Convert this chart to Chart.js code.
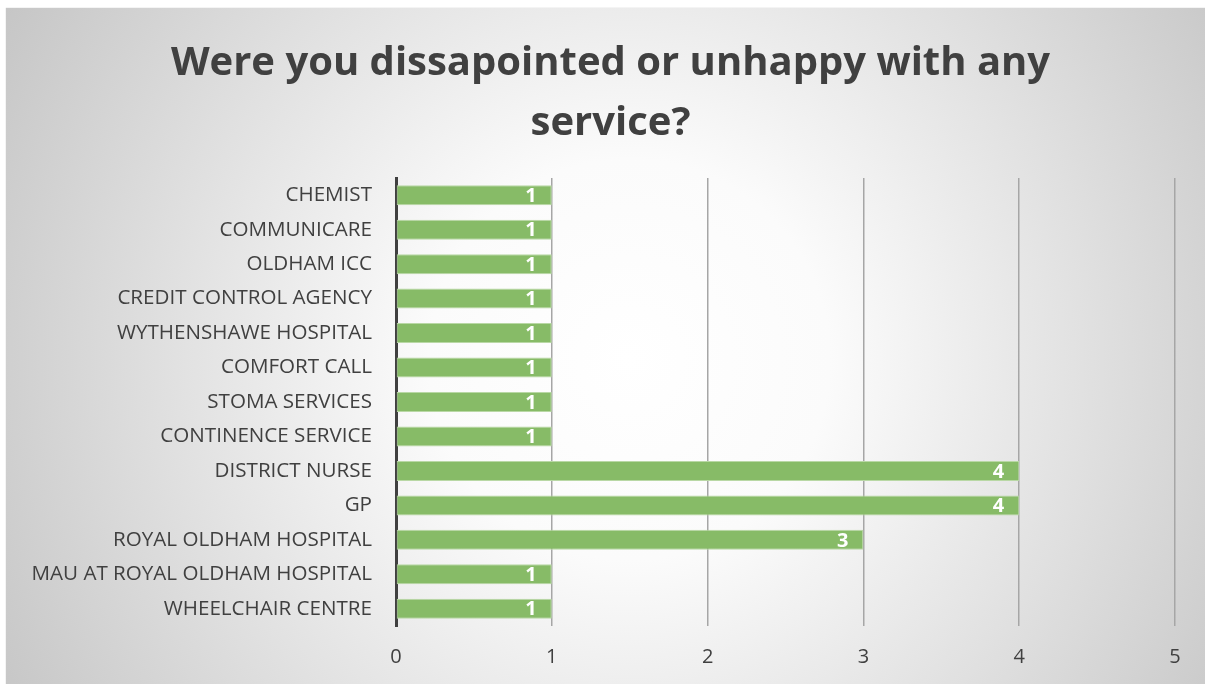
<!DOCTYPE html>
<html>
<head>
<meta charset="utf-8">
<script src="https://cdn.jsdelivr.net/npm/chart.js@4.4.1/dist/chart.umd.min.js"></script>
<style>
  body { margin: 0; background: #ffffff; }
  #wrap {
    position: absolute; left: 6px; top: 8px; width: 1199px; height: 676px;
    background: radial-gradient(circle farthest-corner at 52% 52%, #ffffff 0%, #fbfbfb 28%, #c6c6c6 100%);
    box-shadow: 0 0 1px #bbbbbb;
  }
</style>
</head>
<body>
<div id="wrap"><canvas id="chart" width="1199" height="676"></canvas></div>
<script>
// categories, top to bottom
var services = [
  "CHEMIST",
  "COMMUNICARE",
  "OLDHAM ICC",
  "CREDIT CONTROL AGENCY",
  "WYTHENSHAWE HOSPITAL",
  "COMFORT CALL",
  "STOMA SERVICES",
  "CONTINENCE SERVICE",
  "DISTRICT NURSE",
  "GP",
  "ROYAL OLDHAM HOSPITAL",
  "MAU AT ROYAL OLDHAM HOSPITAL",
  "WHEELCHAIR CENTRE",
];
var counts = [1, 1, 1, 1, 1, 1, 1, 1, 4, 4, 3, 1, 1];
var xTicks = [0, 1, 2, 3, 4, 5];

var fontName = "'Open Sans', sans-serif";

// white value at the end of each bar
var barLabels = {
  id: "barLabels",
  afterDatasetsDraw: function (chart) {
    var ctx = chart.ctx;
    var meta = chart.getDatasetMeta(0);
    ctx.save();
    ctx.fillStyle = "#ffffff";
    ctx.font = "bold 20px " + fontName;
    ctx.textAlign = "right";
    ctx.textBaseline = "middle";
    meta.data.forEach(function (bar, i) {
      ctx.fillText(counts[i], bar.x - 15, bar.y + 1);
    });
    ctx.restore();
  },
};

// the title is centred on the whole box, not just left of the right padding
var titleShift = {
  id: "titleShift",
  afterLayout: function (chart) {
    if (chart.titleBlock) {
      chart.titleBlock.right += 40;
    }
  },
};

var ctx = document.getElementById("chart").getContext("2d");
var myChart = new Chart(ctx, {
  type: "bar",
  data: {
    labels: services,
    datasets: [
      {
        data: counts,
        backgroundColor: "#87bb67",
        borderColor: "#b9d8a5",
        borderWidth: 1,
        borderSkipped: false,
        barPercentage: 0.58,
        categoryPercentage: 1,
      },
    ],
  },
  options: {
    indexAxis: "y",
    responsive: false,
    animation: false,
    layout: { padding: { left: 0, right: 30, top: 0, bottom: 0 } },
    plugins: {
      legend: { display: false },
      tooltip: { enabled: false },
      title: {
        display: true,
        text: ["Were you dissapointed or unhappy with any", "service?"],
        color: "#404040",
        font: { family: fontName, size: 40, weight: "bold", lineHeight: 1.5 },
        padding: { top: 26, bottom: 24 },
      },
    },
    scales: {
      x: {
        min: 0,
        max: 5,
        afterBuildTicks: function (scale) {
          scale.ticks = xTicks.map(function (v) { return { value: v }; });
        },
        afterFit: function (scale) { scale.height = 58; },
        grid: {
          color: function (c) { return c.tick && c.tick.value === 0 ? "rgba(0,0,0,0)" : "#a6a6a6"; },
          lineWidth: 1.5,
          drawTicks: false,
        },
        border: { display: false },
        ticks: { color: "#404040", font: { family: fontName, size: 20 }, padding: 19 },
      },
      y: {
        afterFit: function (scale) { scale.width = 390; },
        grid: { display: false, drawTicks: false },
        border: { display: true, color: "#404040", width: 3 },
        ticks: { color: "#404040", font: { family: fontName, size: 20.6 }, padding: 24 },
      },
    },
  },
  plugins: [barLabels, titleShift],
});
</script>
</body>
</html>
